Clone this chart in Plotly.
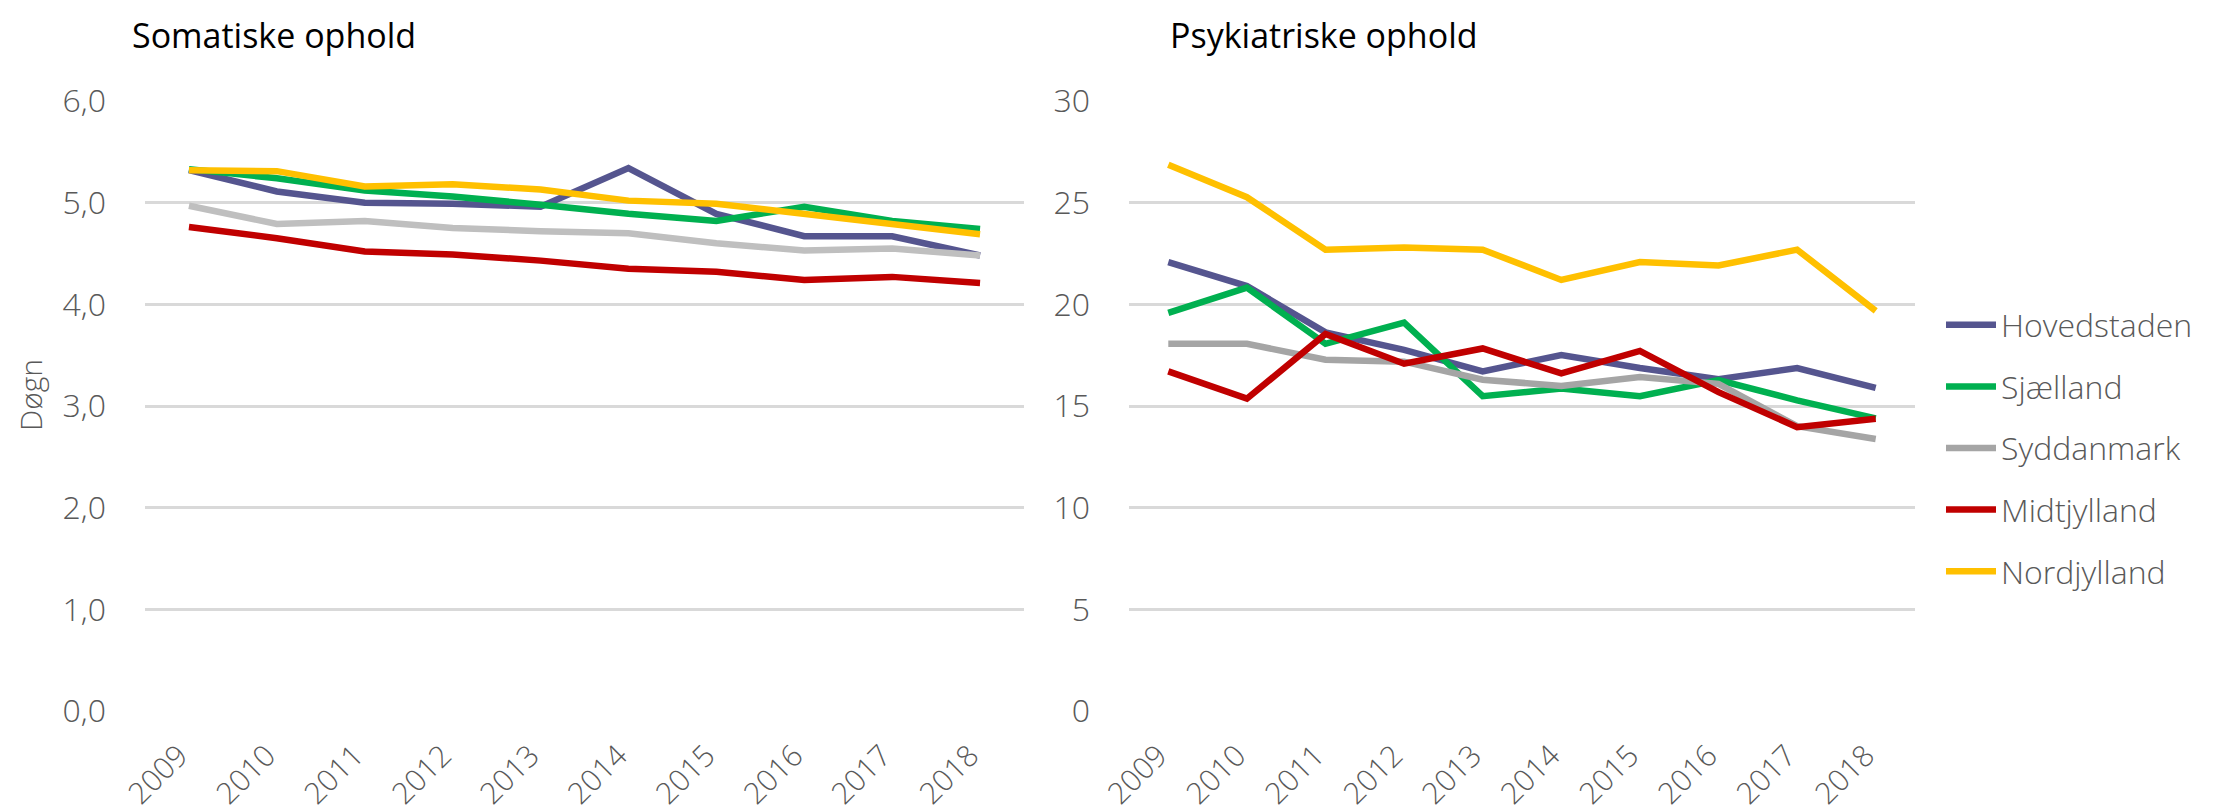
import plotly.graph_objects as go

years = ["2009", "2010", "2011", "2012", "2013", "2014", "2015", "2016", "2017", "2018"]
regions = ["Hovedstaden", "Sjælland", "Syddanmark", "Midtjylland", "Nordjylland"]

# Somatiske ophold (døgn)
som_hovedstaden = [5.32, 5.11, 5.00, 4.99, 4.96, 5.34, 4.89, 4.67, 4.67, 4.48]
som_sjaelland   = [5.33, 5.24, 5.12, 5.06, 4.98, 4.89, 4.82, 4.96, 4.82, 4.74]
som_syddanmark  = [4.97, 4.79, 4.82, 4.75, 4.72, 4.70, 4.60, 4.53, 4.55, 4.48]
som_midtjylland = [4.76, 4.65, 4.52, 4.49, 4.43, 4.35, 4.32, 4.24, 4.27, 4.21]
som_nordjylland = [5.32, 5.31, 5.16, 5.18, 5.13, 5.02, 4.99, 4.89, 4.80, 4.69]

# Psykiatriske ophold (døgn)
psy_hovedstaden = [22.08, 20.90, 18.62, 17.76, 16.70, 17.51, 16.87, 16.32, 16.87, 15.89]
psy_sjaelland   = [19.58, 20.82, 18.06, 19.10, 15.48, 15.86, 15.48, 16.27, 15.28, 14.39]
psy_syddanmark  = [18.06, 18.06, 17.28, 17.18, 16.29, 15.99, 16.42, 16.09, 14.01, 13.38]
psy_midtjylland = [16.70, 15.36, 18.54, 17.08, 17.83, 16.60, 17.71, 15.68, 13.96, 14.37]
psy_nordjylland = [26.87, 25.27, 22.69, 22.79, 22.69, 21.20, 22.08, 21.91, 22.69, 19.68]

som_values = [som_hovedstaden, som_sjaelland, som_syddanmark, som_midtjylland, som_nordjylland]
psy_values = [psy_hovedstaden, psy_sjaelland, psy_syddanmark, psy_midtjylland, psy_nordjylland]

colors_left = ["#55558F", "#00B050", "#BFBFBF", "#C00000", "#FFC000"]
colors_right = ["#55558F", "#00B050", "#A5A5A5", "#C00000", "#FFC000"]

FONT = "Open Sans"
GREY = "#595959"
W, H = 2231, 808

fig = go.Figure()
for i, name in enumerate(regions):
    fig.add_trace(go.Scatter(
        x=years, y=som_values[i], mode="lines", name=name,
        line=dict(color=colors_left[i], width=6.5),
        xaxis="x", yaxis="y", showlegend=False, legendgroup=name,
    ))
for i, name in enumerate(regions):
    fig.add_trace(go.Scatter(
        x=years, y=psy_values[i], mode="lines", name=name,
        line=dict(color=colors_right[i], width=6.5),
        xaxis="x2", yaxis="y2", showlegend=True, legendgroup=name,
    ))

def px_x(p):
    return p / W

def px_y(p):
    return 1 - p / H

ytickfont = dict(family=FONT, size=32, color=GREY, weight=300)
xtickfont = dict(family=FONT, size=30, color=GREY, weight=300)
ydom = [px_y(703), px_y(93)]

common_x = dict(
    type="category", tickangle=-45, tickfont=xtickfont, showgrid=False,
    showline=False, zeroline=False, ticks="", fixedrange=True,
    automargin=False, ticklabelstandoff=20, ticklabelshift=-10, range=[-0.5, 9.5],
)
common_y = dict(
    showgrid=True, gridcolor="#D9D9D9", gridwidth=2.5, zeroline=False,
    showline=False, ticks="", tickfont=ytickfont, domain=ydom,
    ticklabelstandoff=38, automargin=False,
)

fig.update_layout(
    width=W, height=H,
    margin=dict(l=0, r=0, t=0, b=0),
    paper_bgcolor="white", plot_bgcolor="white",
    separators=", ",
    font=dict(family=FONT, color=GREY),
    xaxis=dict(domain=[px_x(137), px_x(1016)], anchor="y", **common_x),
    yaxis=dict(range=[0, 6], dtick=1, tickformat=".1f", anchor="x", **common_y),
    xaxis2=dict(domain=[px_x(1121), px_x(1907)], anchor="y2", **common_x),
    yaxis2=dict(range=[0, 30], dtick=5, tickformat="d", anchor="x2", **common_y),
    legend=dict(
        x=px_x(1933), y=px_y(440), xanchor="left", yanchor="middle",
        font=dict(family=FONT, size=32, color=GREY, weight=300),
        traceorder="grouped", tracegroupgap=17, bgcolor="rgba(0,0,0,0)",
        itemwidth=50,
    ),
    annotations=[
        dict(text="Somatiske ophold", x=px_x(122), y=px_y(27), xref="paper", yref="paper",
             xanchor="left", yanchor="middle", showarrow=False,
             font=dict(family=FONT, size=34, color="black")),
        dict(text="Psykiatriske ophold", x=px_x(1160), y=px_y(27), xref="paper", yref="paper",
             xanchor="left", yanchor="middle", showarrow=False,
             font=dict(family=FONT, size=34, color="black")),
        dict(text="Døgn", x=px_x(22), y=px_y(387), xref="paper", yref="paper",
             xanchor="center", yanchor="middle", showarrow=False, textangle=-90,
             font=dict(family=FONT, size=30, color=GREY, weight=300)),
    ],
)

fig.write_html("out.html")
